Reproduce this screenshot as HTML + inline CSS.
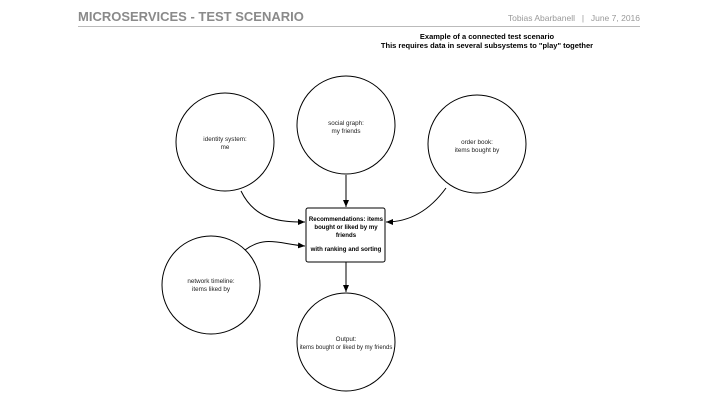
<!DOCTYPE html>
<html><head><style>
body{margin:0;width:720px;height:405px;background:#fff;overflow:hidden;font-family:"Liberation Sans",sans-serif;}
</style></head><body>
<svg width="720" height="405" xmlns="http://www.w3.org/2000/svg" style="position:absolute;left:0;top:0" font-family="Liberation Sans, sans-serif">
<defs><marker id="a" markerWidth="8" markerHeight="8" refX="7" refY="4" orient="auto" markerUnits="userSpaceOnUse"><path d="M0,1 L7,4 L0,7 Z" fill="#000"/></marker></defs>
<text x="78" y="21" font-size="13" font-weight="bold" fill="#8a8a8a">MICROSERVICES - TEST SCENARIO</text>
<text x="640" y="21" font-size="8.5" fill="#999" text-anchor="end">June 7, 2016</text>
<text x="583" y="21" font-size="8.5" fill="#999" text-anchor="middle">|</text>
<text x="575" y="21" font-size="8.5" fill="#999" text-anchor="end">Tobias Abarbanell</text>
<line x1="78" y1="26.5" x2="640" y2="26.5" stroke="#bbb" stroke-width="1"/>
<text x="487" y="39" font-size="7.5" font-weight="bold" text-anchor="middle">Example of a connected test scenario</text>
<text x="487" y="48" font-size="7.5" font-weight="bold" text-anchor="middle">This requires data in several subsystems to "play" together</text>
<g fill="none" stroke="#000" stroke-width="1">
<circle cx="225" cy="142" r="49"/>
<circle cx="346" cy="125" r="49"/>
<circle cx="477" cy="144" r="49"/>
<circle cx="211" cy="285" r="49"/>
<circle cx="346" cy="342" r="49"/>
<rect x="306" y="208" width="79" height="54" rx="2"/>
<path d="M241,191 C255,220 280,222 305,222" marker-end="url(#a)"/>
<path d="M346,175 L346,207" marker-end="url(#a)"/>
<path d="M446,188 C430,210 410,222 386,222" marker-end="url(#a)"/>
<path d="M245,250 C265,235 280,244 305,246" marker-end="url(#a)"/>
<path d="M346,262 L346,292" marker-end="url(#a)"/>
</g>
<g font-size="6.3" text-anchor="middle" fill="#222">
<text x="225" y="141">identity system:</text><text x="225" y="149">me</text>
<text x="346" y="125">social graph:</text><text x="346" y="133">my friends</text>
<text x="477" y="144">order book:</text><text x="477" y="152">items bought by</text>
<text x="211" y="283">network timeline:</text><text x="211" y="291">items liked by</text>
<text x="346" y="341">Output:</text><text x="346" y="349" font-size="6">items bought or liked by my friends</text>
</g>
<g font-size="6.1" font-weight="bold" text-anchor="middle">
<text x="346" y="221">Recommendations: items</text>
<text x="346" y="229">bought or liked by my</text>
<text x="346" y="237">friends</text>
<text x="346" y="251">with ranking and sorting</text>
</g>
</svg>
</body></html>
